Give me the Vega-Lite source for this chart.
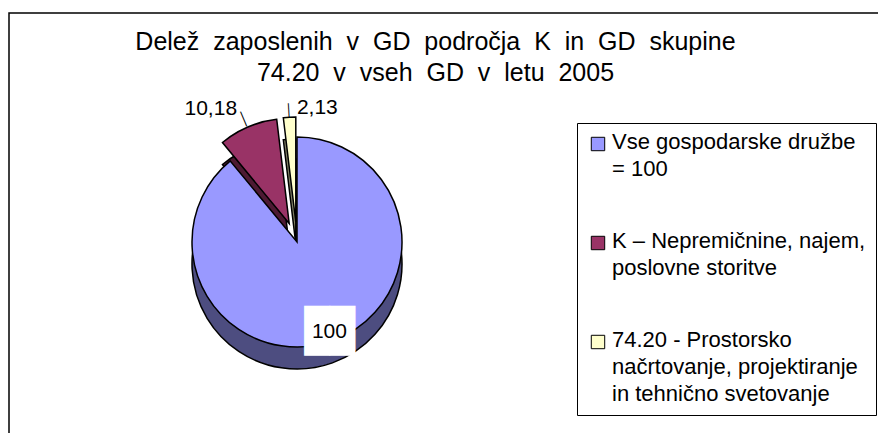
{
  "$schema": "https://vega.github.io/schema/vega-lite/v6.json",
  "width": 875,
  "height": 425,
  "autosize": {"type": "none"},
  "padding": {"left": 9, "top": 13, "right": 0, "bottom": 0},
  "background": "white",
  "view": {"stroke": "#000", "strokeWidth": 1.5, "fill": "white"},
  "config": {"font": "Liberation Sans"},
  "title": {
    "text": ["Delež\u00a0 zaposlenih\u00a0 v\u00a0 GD\u00a0 področja\u00a0 K\u00a0 in\u00a0 GD\u00a0 skupine", "74.20\u00a0 v\u00a0 vseh\u00a0 GD\u00a0 v\u00a0 letu\u00a0 2005"],
    "font": "Liberation Sans",
    "fontSize": 25,
    "fontWeight": "normal",
    "color": "#000",
    "anchor": "middle",
    "frame": "group",
    "baseline": "top",
    "offset": -73,
    "lineHeight": 31,
    "dx": -11
  },
  "data": {
    "values": [
      {"kategorija": "Vse gospodarske družbe = 100", "vrednost": 100, "oznaka": "100"},
      {"kategorija": "K – Nepremičnine, najem, poslovne storitve", "vrednost": 10.18, "oznaka": "10,18"},
      {"kategorija": "74.20 - Prostorsko načrtovanje, projektiranje in tehnično svetovanje", "vrednost": 2.13, "oznaka": "2,13"}
    ]
  },
  "layer": [
    {
      "transform": [{"stack": "vrednost", "groupby": [], "as": ["v0", "v1"]}, {"filter": "datum.oznaka == '100'"}],
      "mark": {"type": "arc", "radius": 105, "x": 288, "y": 251, "fill": "#4D4D80", "stroke": "#000", "strokeWidth": 1.5},
      "encoding": {
        "theta": {"field": "v0", "type": "quantitative", "scale": {"domain": [0, 112.31]}},
        "theta2": {"field": "v1"}
      }
    },
    {
      "transform": [{"stack": "vrednost", "groupby": [], "as": ["v0", "v1"]}, {"filter": "datum.oznaka == '10,18'"}],
      "mark": {"type": "arc", "radius": 105, "x": 280.2, "y": 232.6, "fill": "#4D1A33", "stroke": "#000", "strokeWidth": 1.5},
      "encoding": {
        "theta": {"field": "v0", "type": "quantitative"},
        "theta2": {"field": "v1"}
      }
    },
    {
      "transform": [{"stack": "vrednost", "groupby": [], "as": ["v0", "v1"]}, {"filter": "datum.oznaka == '2,13'"}],
      "mark": {"type": "arc", "radius": 105, "x": 286.8, "y": 231, "fill": "#808066", "stroke": "#000", "strokeWidth": 1.5},
      "encoding": {
        "theta": {"field": "v0", "type": "quantitative"},
        "theta2": {"field": "v1"}
      }
    },
    {
      "transform": [{"stack": "vrednost", "groupby": [], "as": ["v0", "v1"]}, {"filter": "datum.oznaka == '10,18'"}],
      "mark": {"type": "arc", "radius": 105, "x": 280.2, "y": 210.6, "stroke": "#000", "strokeWidth": 1.5, "opacity": 1},
      "encoding": {
        "theta": {"field": "v0", "type": "quantitative"},
        "theta2": {"field": "v1"},
        "color": {
          "field": "kategorija",
          "type": "nominal",
          "scale": {
            "domain": ["Vse gospodarske družbe = 100", "K – Nepremičnine, najem, poslovne storitve", "74.20 - Prostorsko načrtovanje, projektiranje in tehnično svetovanje"],
            "range": ["#9999FF", "#993366", "#FFFFCC"]
          },
          "legend": {
            "orient": "none",
            "legendX": 568,
            "legendY": 110,
            "title": null,
            "symbolType": "square",
            "symbolSize": 180,
            "symbolStrokeColor": "#000",
            "symbolStrokeWidth": 1,
            "symbolOpacity": 1,
            "labelFont": "Liberation Sans",
            "labelFontSize": 22,
            "labelColor": "#000",
            "labelLimit": 0,
            "labelBaseline": "top",
            "labelOffset": 3,
            "strokeColor": "#000",
            "fillColor": "white",
            "padding": 10,
            "rowPadding": 50,
            "labelExpr": "datum.value == 'Vse gospodarske družbe = 100' ? ['Vse gospodarske družbe', '= 100'] : datum.value == 'K – Nepremičnine, najem, poslovne storitve' ? ['K – Nepremičnine, najem,', 'poslovne storitve'] : ['74.20 - Prostorsko', 'načrtovanje, projektiranje', 'in tehnično svetovanje']",
            "encode": {"labels": {"update": {"lineHeight": {"value": 27}, "dy": {"value": -12}}}}
          }
        }
      }
    },
    {
      "transform": [{"stack": "vrednost", "groupby": [], "as": ["v0", "v1"]}, {"filter": "datum.oznaka == '2,13'"}],
      "mark": {"type": "arc", "radius": 105, "x": 286.8, "y": 209, "stroke": "#000", "strokeWidth": 1.5, "opacity": 1},
      "encoding": {
        "theta": {"field": "v0", "type": "quantitative"},
        "theta2": {"field": "v1"},
        "color": {"field": "kategorija", "type": "nominal"}
      }
    },
    {
      "transform": [{"stack": "vrednost", "groupby": [], "as": ["v0", "v1"]}, {"filter": "datum.oznaka == '100'"}],
      "mark": {"type": "arc", "radius": 105, "x": 288, "y": 229, "stroke": "#000", "strokeWidth": 1.5, "opacity": 1},
      "encoding": {
        "theta": {"field": "v0", "type": "quantitative"},
        "theta2": {"field": "v1"},
        "color": {"field": "kategorija", "type": "nominal"}
      }
    },
    {
      "mark": {"type": "text", "font": "DejaVu Sans Mono", "fontSize": 42, "color": "white", "radius": 96, "x": 288, "y": 229, "align": "center", "baseline": "middle"},
      "encoding": {
        "theta": {"field": "vrednost", "type": "quantitative", "stack": true},
        "order": {"field": "vrednost", "sort": "descending"},
        "text": {"condition": {"test": "datum.oznaka == '100'", "value": "██"}, "value": ""}
      }
    },
    {
      "mark": {"type": "text", "font": "Liberation Sans", "fontSize": 21, "color": "#000", "radius": 96, "x": 288, "y": 229, "align": "center", "baseline": "middle"},
      "encoding": {
        "theta": {"field": "vrednost", "type": "quantitative", "stack": true},
        "order": {"field": "vrednost", "sort": "descending"},
        "text": {"condition": {"test": "datum.oznaka == '100'", "field": "oznaka"}, "value": ""}
      }
    },
    {
      "mark": {"type": "text", "font": "Liberation Sans", "fontSize": 16, "color": "#000", "radius": 114, "x": 280.2, "y": 210.6, "align": "center", "baseline": "middle", "angle": 67},
      "encoding": {
        "theta": {"field": "vrednost", "type": "quantitative", "stack": true},
        "order": {"field": "vrednost", "sort": "descending"},
        "text": {"condition": {"test": "datum.oznaka == '10,18'", "value": "—"}, "value": ""}
      }
    },
    {
      "mark": {"type": "text", "font": "Liberation Sans", "fontSize": 14, "color": "#000", "radius": 112, "x": 286.8, "y": 209, "align": "center", "baseline": "middle", "angle": 86.6},
      "encoding": {
        "theta": {"field": "vrednost", "type": "quantitative", "stack": true},
        "order": {"field": "vrednost", "sort": "descending"},
        "text": {"condition": {"test": "datum.oznaka == '2,13'", "value": "—"}, "value": ""}
      }
    },
    {
      "mark": {"type": "text", "font": "Liberation Sans", "fontSize": 21, "color": "#000", "radius": 125, "x": 280.2, "y": 210.6, "align": "right", "baseline": "middle", "dx": -3},
      "encoding": {
        "theta": {"field": "vrednost", "type": "quantitative", "stack": true},
        "order": {"field": "vrednost", "sort": "descending"},
        "text": {"condition": {"test": "datum.oznaka == '10,18'", "field": "oznaka"}, "value": ""}
      }
    },
    {
      "mark": {"type": "text", "font": "Liberation Sans", "fontSize": 21, "color": "#000", "radius": 116, "x": 286.8, "y": 209, "align": "left", "baseline": "middle", "dx": 8, "dy": 2},
      "encoding": {
        "theta": {"field": "vrednost", "type": "quantitative", "stack": true},
        "order": {"field": "vrednost", "sort": "descending"},
        "text": {"condition": {"test": "datum.oznaka == '2,13'", "field": "oznaka"}, "value": ""}
      }
    }
  ]
}
